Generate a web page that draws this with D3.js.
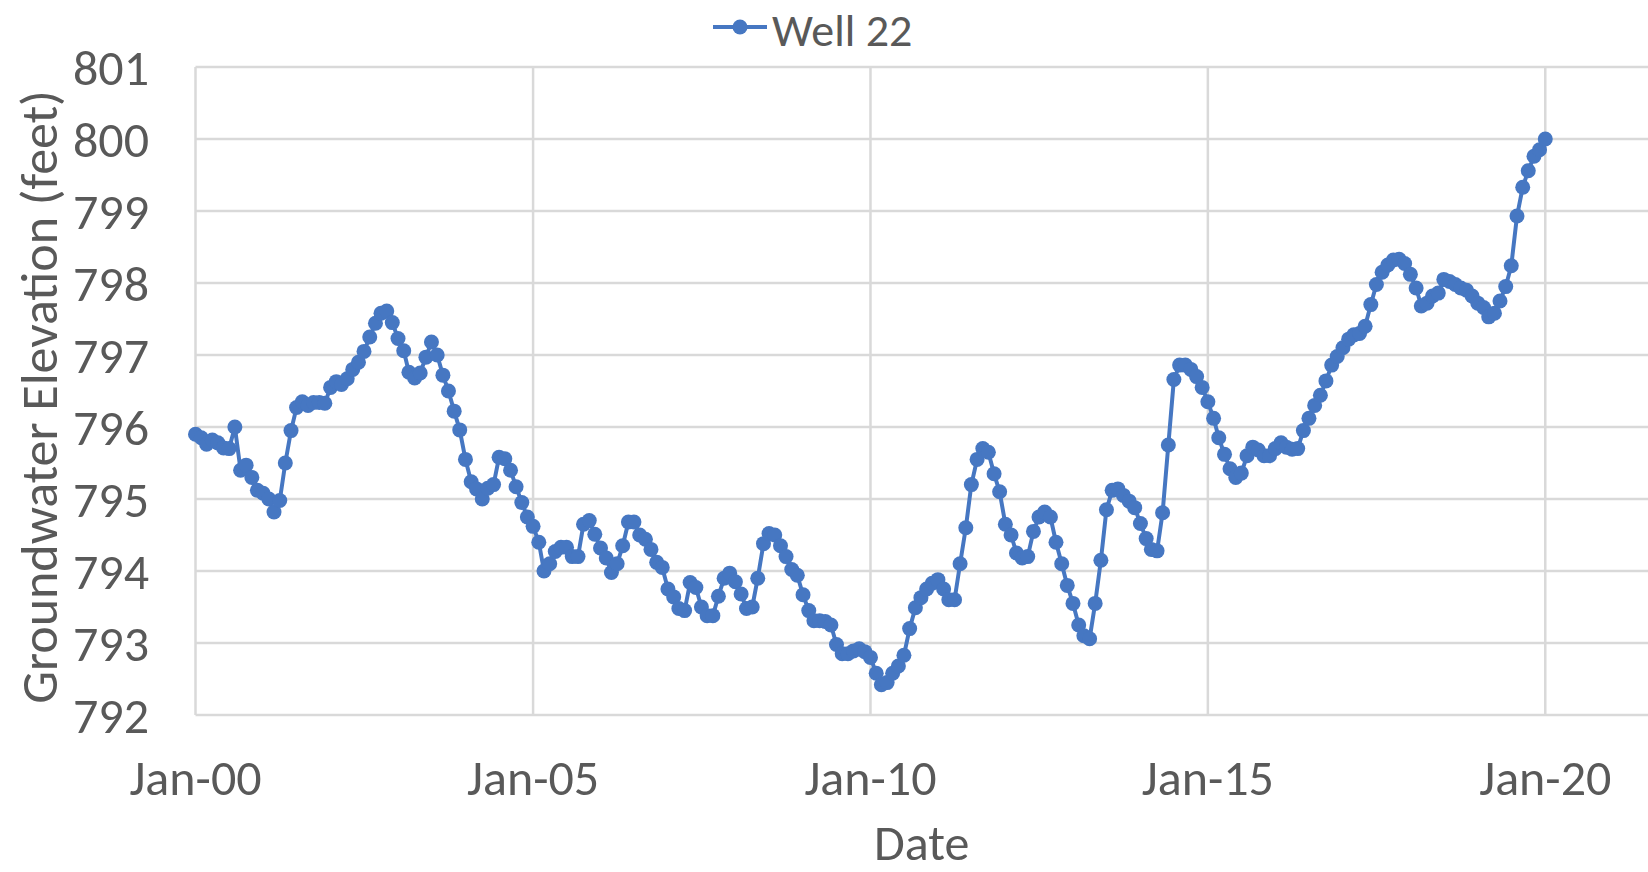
<!DOCTYPE html>
<html>
<head>
<meta charset="utf-8">
<script src="https://cdn.jsdelivr.net/npm/d3@7"></script>
<style>
  html, body { margin: 0; padding: 0; background: #fff; }
  svg { display: block; }
  text { font-family: Carlito, Lato, "Open Sans", sans-serif; fill: #595959; }
</style>
</head>
<body>
<svg id="chart" width="1648" height="872"></svg>
<script>
// ---- data (monthly readings, Jan 2000 .. Jan 2020) ----
const seriesName = "Well 22";
const startMonth = "2000-01-01";
const elevation = [
  795.9, 795.85, 795.76, 795.82, 795.78, 795.71, 795.7, 796.0, 795.4, 795.47,
  795.3, 795.12, 795.08, 795.0, 794.82, 794.98, 795.5, 795.95, 796.27, 796.35,
  796.3, 796.34, 796.34, 796.33, 796.55, 796.63, 796.59, 796.67, 796.8, 796.9,
  797.05, 797.25, 797.44, 797.58, 797.61, 797.45, 797.23, 797.06, 796.76, 796.68,
  796.75, 796.97, 797.18, 797.0, 796.72, 796.5, 796.22, 795.96, 795.55, 795.24,
  795.14, 795.0, 795.15, 795.2, 795.58, 795.56, 795.4, 795.17, 794.95, 794.75,
  794.62, 794.4, 794.0, 794.1, 794.27, 794.33, 794.33, 794.2, 794.2, 794.65,
  794.7, 794.51, 794.32, 794.18, 793.98, 794.1, 794.35, 794.68, 794.68, 794.5,
  794.44, 794.3, 794.12, 794.05, 793.75, 793.64, 793.48, 793.45, 793.84, 793.77,
  793.5, 793.38, 793.38, 793.65, 793.9, 793.97, 793.85, 793.68, 793.48, 793.5,
  793.9, 794.38, 794.52, 794.5, 794.35, 794.2, 794.02, 793.94, 793.67, 793.45,
  793.31, 793.31, 793.3, 793.25, 792.98, 792.85, 792.85, 792.89, 792.92, 792.88,
  792.8, 792.58, 792.42, 792.45, 792.58, 792.68, 792.83, 793.2, 793.49, 793.63,
  793.75, 793.83, 793.88, 793.75, 793.6, 793.6, 794.1, 794.6, 795.2, 795.55,
  795.7, 795.65, 795.35, 795.1, 794.65, 794.5, 794.25, 794.18, 794.2, 794.55,
  794.75, 794.82, 794.75, 794.4, 794.1, 793.8, 793.55, 793.25, 793.1, 793.06,
  793.55, 794.15, 794.85, 795.12, 795.14, 795.05, 794.97, 794.88, 794.66, 794.45,
  794.3, 794.28, 794.81, 795.75, 796.66, 796.86, 796.86, 796.8, 796.7, 796.55,
  796.35, 796.12, 795.85, 795.62, 795.42, 795.3, 795.36, 795.6, 795.72, 795.68,
  795.6, 795.6, 795.7, 795.78, 795.72, 795.69, 795.7, 795.95, 796.12, 796.3,
  796.44, 796.64, 796.86, 796.98, 797.1, 797.22, 797.28, 797.3, 797.4, 797.7,
  797.98, 798.15, 798.25, 798.32, 798.33, 798.27, 798.12, 797.93, 797.68, 797.72,
  797.82, 797.86, 798.05, 798.02, 797.98, 797.93, 797.9, 797.82, 797.72, 797.66,
  797.53, 797.58, 797.75, 797.95, 798.24, 798.93, 799.33, 799.56, 799.76, 799.85, 800.0
];
const xTickDates = ["2000-01-01", "2005-01-01", "2010-01-01", "2015-01-01", "2020-01-01"];
const xTickLabels = ["Jan-00", "Jan-05", "Jan-10", "Jan-15", "Jan-20"];
const yTicks = [792, 793, 794, 795, 796, 797, 798, 799, 800, 801];
const xTitle = "Date";
const yTitle = "Groundwater Elevation (feet)";

(function () {
  const parse = d3.utcParse("%Y-%m-%d");
  const start = parse(startMonth);
  const data = elevation.map((v, i) => ({ date: d3.utcMonth.offset(start, i), value: v }));

  const pLeft = 195.5, pRight = 1648, pTop = 67, pBottom = 715;
  const x = d3.scaleUtc()
    .domain([parse("2000-01-01"), parse("2021-07-10")])
    .range([pLeft, pRight]);
  const y = d3.scaleLinear().domain([792, 801]).range([pBottom, pTop]);

  const svg = d3.select("#chart");
  const color = "#4677C2";
  const grid = "#d9d9d9";
  const tickFs = 50, titleFs = 52;

  svg.append("g").selectAll("line").data(yTicks).join("line")
    .attr("x1", pLeft).attr("x2", pRight)
    .attr("y1", d => y(d)).attr("y2", d => y(d))
    .attr("stroke", grid).attr("stroke-width", 2.5);

  svg.append("g").selectAll("line").data(xTickDates).join("line")
    .attr("x1", d => x(parse(d))).attr("x2", d => x(parse(d)))
    .attr("y1", pTop).attr("y2", pBottom)
    .attr("stroke", grid).attr("stroke-width", 2.5);

  svg.append("g").selectAll("text").data(yTicks).join("text")
    .attr("x", 149).attr("y", d => y(d) + 18)
    .attr("text-anchor", "end")
    .style("font-size", tickFs + "px")
    .text(d => d);

  svg.append("g").selectAll("text").data(xTickDates).join("text")
    .attr("x", d => x(parse(d))).attr("y", 795)
    .attr("text-anchor", "middle")
    .style("font-size", tickFs + "px")
    .text((d, i) => xTickLabels[i]);

  svg.append("text")
    .attr("x", (pLeft + pRight) / 2).attr("y", 860)
    .attr("text-anchor", "middle")
    .style("font-size", "50px")
    .text(xTitle);

  svg.append("text")
    .attr("transform", "translate(57,397) rotate(-90)")
    .attr("text-anchor", "middle")
    .style("font-size", titleFs + "px")
    .text(yTitle);

  const line = d3.line().x(d => x(d.date)).y(d => y(d.value));
  svg.append("path").datum(data)
    .attr("d", line)
    .attr("fill", "none")
    .attr("stroke", color)
    .attr("stroke-width", 4)
    .attr("stroke-linejoin", "round");

  svg.append("g").selectAll("circle").data(data).join("circle")
    .attr("cx", d => x(d.date)).attr("cy", d => y(d.value))
    .attr("r", 7.5)
    .attr("fill", color);

  const lg = svg.append("g");
  lg.append("line").attr("x1", 713).attr("x2", 767).attr("y1", 27).attr("y2", 27)
    .attr("stroke", color).attr("stroke-width", 4);
  lg.append("circle").attr("cx", 740).attr("cy", 27).attr("r", 7.5).attr("fill", color);
  lg.append("text").attr("x", 772).attr("y", 46)
    .style("font-size", "46px")
    .text(seriesName);
})();
</script>
</body>
</html>
